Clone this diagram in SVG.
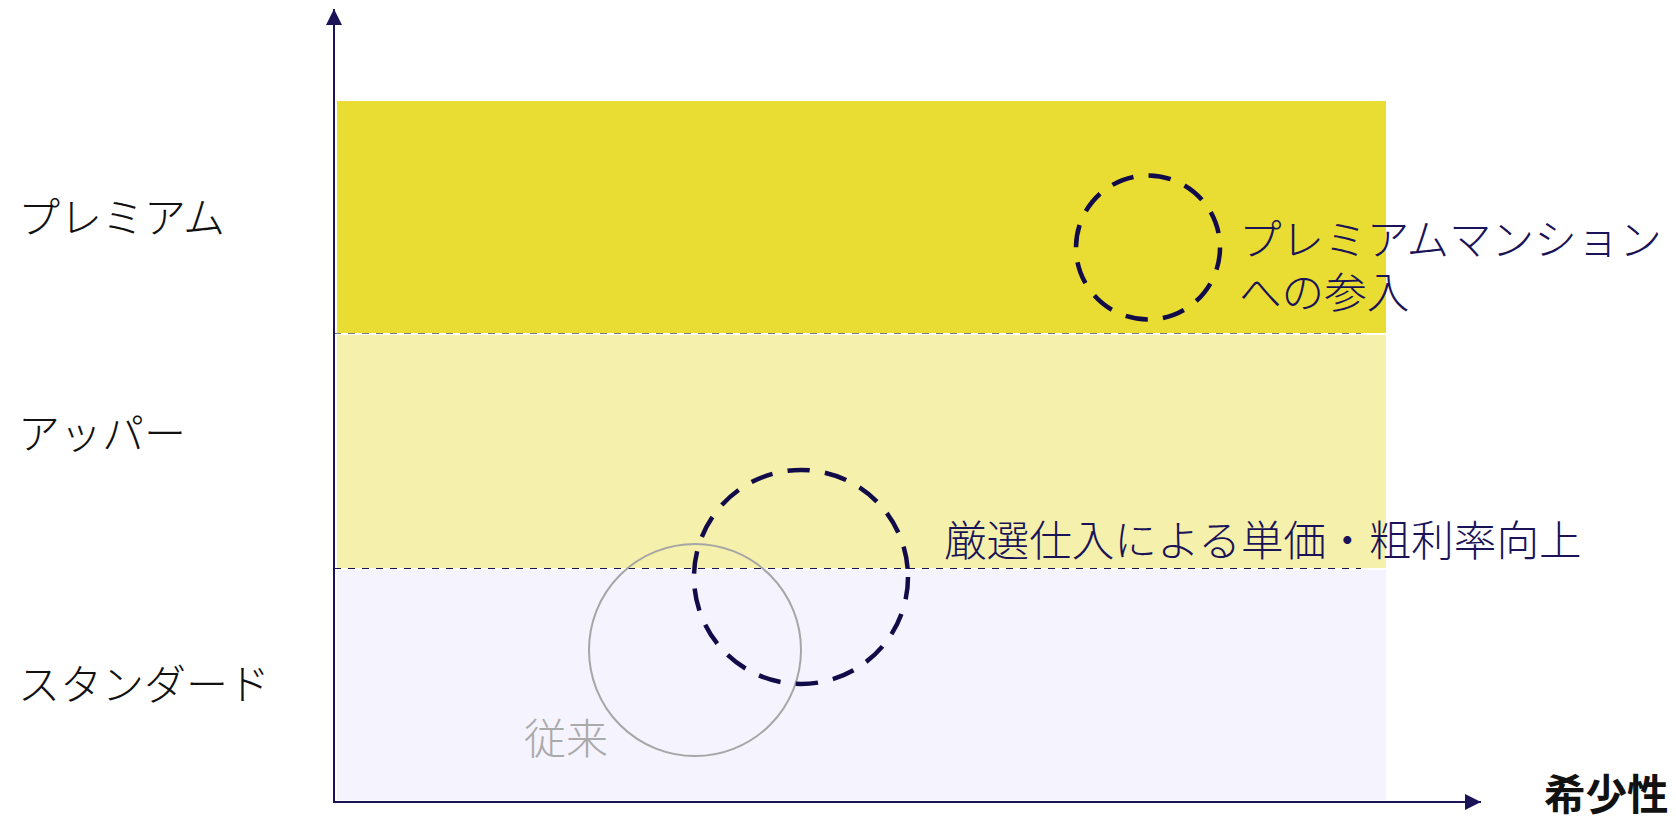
<svg xmlns="http://www.w3.org/2000/svg" width="1676" height="820" viewBox="0 0 1676 820">
  <style>
    .lbl { font-family: "Noto Sans CJK JP", "Noto Sans CJK SC", sans-serif; font-size: 42px; font-weight: 300; }
    .big { font-size: 42.6px; }
    .dark { fill: #111111; }
    .navy { fill: #1a1358; }
    .axis { stroke: #1a1358; stroke-width: 2; fill: none; }
    .sep { stroke-width: 1; stroke-dasharray: 7 7; fill: none; }
    .dcircle { fill: none; stroke: #120b4a; stroke-width: 4.5; stroke-dasharray: 22.5 15.2; }
  </style>
  <defs>
    <marker id="arr" viewBox="0 0 10 10" refX="10" refY="5" markerWidth="16" markerHeight="16" markerUnits="userSpaceOnUse" orient="auto">
      <path d="M0,0 L10,5 L0,10 Z" fill="#1a1358"/>
    </marker>
  </defs>
  <rect width="1676" height="820" fill="#ffffff"/>

  <g id="bands">
    <rect id="band-premium" x="337" y="101" width="1049" height="232" fill="#e9dd33"/>
    <rect id="band-upper" x="337" y="335" width="1049" height="233" fill="#f5f0ab"/>
    <rect id="band-standard" x="337" y="570" width="1049" height="230" fill="#f4f3fe"/>
  </g>

  <g id="connectors">
    <line class="sep" x1="334" y1="333.5" x2="1361" y2="333.5" stroke="#7a7a7a"/>
    <line class="sep" x1="334" y1="568.5" x2="1361" y2="568.5" stroke="#1a1358"/>
    <line class="axis" x1="334" y1="802" x2="334" y2="9" marker-end="url(#arr)"/>
    <line class="axis" x1="333" y1="802" x2="1481" y2="802" marker-end="url(#arr)"/>
  </g>

  <g id="label-premium"><text class="lbl dark" x="18" y="233">プレミアム</text></g>
  <g id="label-upper"><text class="lbl dark" x="18" y="449">アッパー</text></g>
  <g id="label-standard"><text class="lbl dark" x="18" y="700">スタンダード</text></g>

  <g id="node-conventional">
    <circle cx="695" cy="650" r="106" fill="none" stroke="#a6a6a6" stroke-width="2"/>
    <text class="lbl" x="524" y="754" fill="#aaaaaa">従来</text>
  </g>

  <g id="node-selective">
    <circle class="dcircle" cx="801" cy="577" r="107"/>
    <text class="lbl big navy" x="944" y="556">厳選仕入による単価・粗利率向上</text>
  </g>

  <g id="node-premium-entry">
    <circle class="dcircle" cx="1148" cy="247.5" r="72"/>
    <text class="lbl big navy" x="1239" y="255">プレミアムマンション</text>
    <text class="lbl big navy" x="1239" y="308">への参入</text>
  </g>

  <g id="label-rarity"><text x="1544" y="810" font-family="Noto Sans CJK JP, sans-serif" font-size="41.5" font-weight="700" fill="#111111">希少性</text></g>
</svg>
